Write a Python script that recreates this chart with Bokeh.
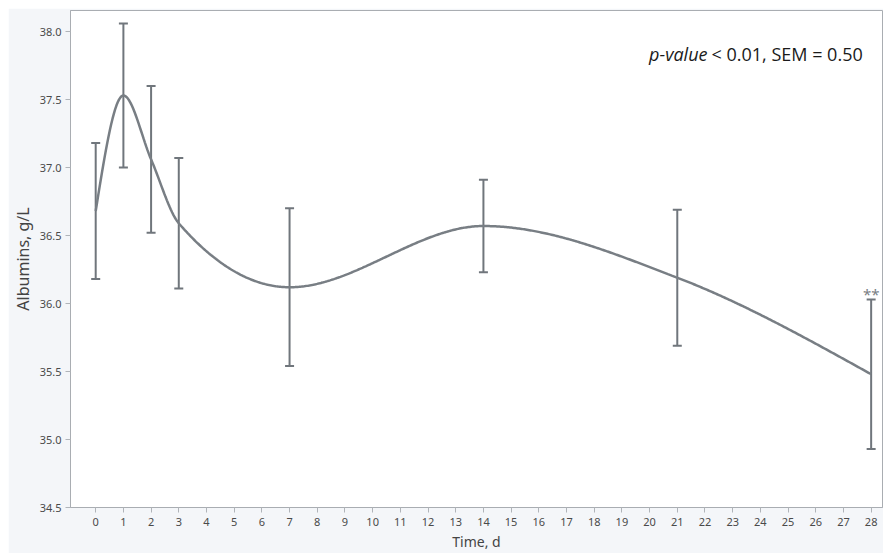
import numpy as np
from bokeh.plotting import figure
from bokeh.models import (ColumnDataSource, Whisker, FixedTicker, NumeralTickFormatter,
                          Range1d, Label)
from bokeh.core.properties import value
from bokeh.embed import file_html
from bokeh.resources import INLINE

# ---- data ----
days = [0, 1, 2, 3, 7, 14, 21, 28]
albumin = [36.68, 37.53, 37.06, 36.59, 36.12, 36.57, 36.19, 35.48]
err = [0.50, 0.53, 0.54, 0.48, 0.58, 0.34, 0.50, 0.55]
x_ticks = list(range(0, 29))
y_ticks = [34.5, 35.0, 35.5, 36.0, 36.5, 37.0, 37.5, 38.0]
sig_day = [28]
sig_mark = ["**"]
annotation_italic = "p-value"
annotation_rest = "< 0.01, SEM = 0.50"


def monotone_curve(x, y, n=600):
    x = np.asarray(x, float)
    y = np.asarray(y, float)
    h = np.diff(x)
    s = np.diff(y) / h
    m = np.zeros_like(y)
    for i in range(1, len(x) - 1):
        s0, s1 = s[i - 1], s[i]
        if s0 * s1 <= 0:
            m[i] = 0.0
        else:
            p = (s0 * h[i] + s1 * h[i - 1]) / (h[i - 1] + h[i])
            m[i] = (np.sign(s0) + np.sign(s1)) * min(abs(s0), abs(s1), 0.5 * abs(p))
    m[0] = (3 * s[0] - m[1]) / 2
    m[-1] = (3 * s[-1] - m[-2]) / 2
    xs = np.linspace(x[0], x[-1], n)
    ys = np.empty_like(xs)
    for k, xv in enumerate(xs):
        i = min(np.searchsorted(x, xv, side="right") - 1, len(x) - 2)
        t = (xv - x[i]) / h[i]
        h00 = 2 * t**3 - 3 * t**2 + 1
        h10 = t**3 - 2 * t**2 + t
        h01 = -2 * t**3 + 3 * t**2
        h11 = t**3 - t**2
        ys[k] = h00 * y[i] + h10 * h[i] * m[i] + h01 * y[i + 1] + h11 * h[i] * m[i + 1]
    return xs, ys


cx, cy = monotone_curve(days, albumin)

upper = [a + e for a, e in zip(albumin, err)]
lower = [a - e for a, e in zip(albumin, err)]
src = ColumnDataSource(dict(x=days, y=albumin, upper=upper, lower=lower))

p = figure(width=875, height=545, output_backend="svg", toolbar_location=None,
           x_range=Range1d(-0.91, 28.41), y_range=Range1d(34.5, 38.155),
           margin=(8, 0, 0, 8),
           min_border_left=62, min_border_right=1, min_border_top=2, min_border_bottom=43)

p.background_fill_color = "white"
p.border_fill_color = "#f4f6f9"
p.outline_line_color = "#a9adb2"
p.outline_line_width = 1
p.xgrid.visible = False
p.ygrid.visible = False

p.line(cx, cy, line_color="#787e84", line_width=2.5)

wh = Whisker(source=src, base="x", upper="upper", lower="lower",
             line_color="#70767c", line_width=2)
wh.upper_head.line_color = "#70767c"
wh.lower_head.line_color = "#70767c"
wh.upper_head.line_width = 2
wh.lower_head.line_width = 2
wh.upper_head.size = 9
wh.lower_head.size = 9
p.add_layout(wh)

sig_src = ColumnDataSource(dict(x=sig_day, y=[upper[days.index(d)] for d in sig_day], t=sig_mark))
p.text(x="x", y="y", text="t", source=sig_src, text_align="center", text_baseline="bottom",
       y_offset=5, text_color="#7a7f85", text_font_size="15px", text_font=value("Noto Sans"))

p.add_layout(Label(x=637, y=454, x_units="screen", y_units="screen", text=annotation_italic,
                   text_align="right", text_baseline="middle", text_font_style="italic",
                   text_font="Open Sans", text_font_size="18px", text_color="#1a1a1a"))
p.add_layout(Label(x=641, y=454, x_units="screen", y_units="screen", text=annotation_rest,
                   text_align="left", text_baseline="middle",
                   text_font="Open Sans", text_font_size="18px", text_color="#1a1a1a"))

p.xaxis.ticker = FixedTicker(ticks=x_ticks)
p.yaxis.ticker = FixedTicker(ticks=y_ticks)
p.yaxis.formatter = NumeralTickFormatter(format="0.0")
for ax in (p.xaxis[0], p.yaxis[0]):
    ax.axis_line_color = "#a9adb2"
    ax.major_tick_line_color = "#b0b4b9"
    ax.major_tick_out = 5
    ax.major_tick_in = 0
    ax.minor_tick_line_color = None
    ax.major_label_text_font = "Noto Sans"
    ax.major_label_text_font_size = "11px"
    ax.major_label_text_color = "#4a4a4a"
    ax.axis_label_text_font = "Noto Sans"
    ax.axis_label_text_font_style = "normal"
    ax.axis_label_text_color = "#444444"
p.xaxis.axis_label = "Time, d"
p.xaxis.axis_label_text_font_size = "14px"
p.xaxis.axis_label_standoff = 3
p.xaxis.major_label_standoff = 5
p.yaxis.axis_label = "Albumins, g/L"
p.yaxis.axis_label_text_font_size = "16px"
p.yaxis.axis_label_standoff = 3
p.yaxis.major_label_standoff = 4

open("out.html", "w").write(file_html(p, INLINE))
